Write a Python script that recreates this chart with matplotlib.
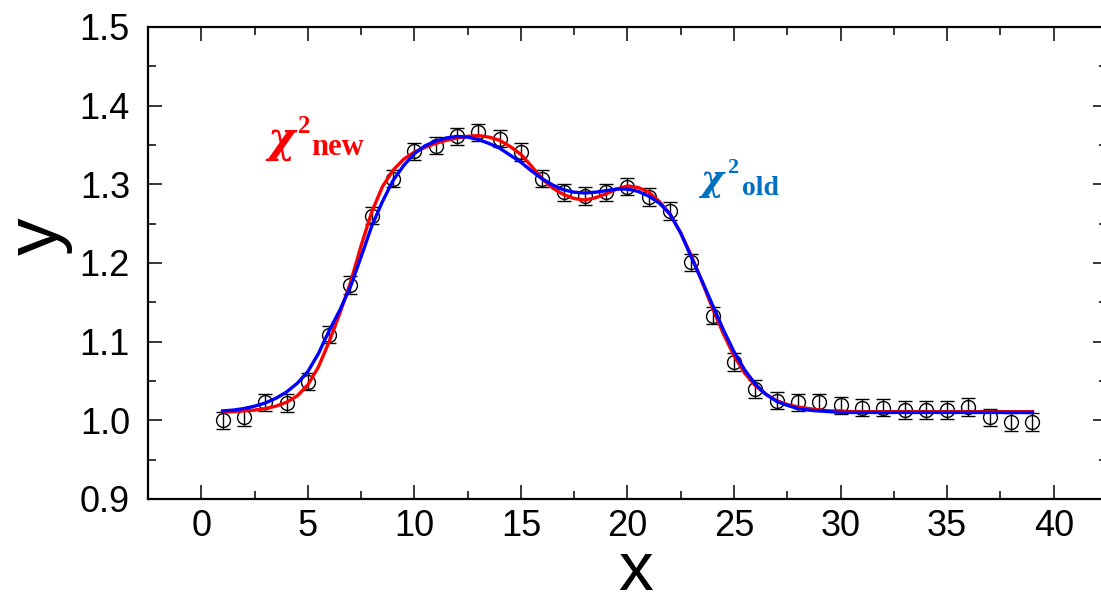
import numpy as np
import matplotlib
matplotlib.use("Agg")
import matplotlib.pyplot as plt
from matplotlib.ticker import MultipleLocator

# ---- data ----
x_pts = list(range(1, 40))
y_pts = [1.000, 1.004, 1.023, 1.022, 1.049, 1.109, 1.172, 1.260, 1.307, 1.342,
         1.349, 1.361, 1.366, 1.358, 1.341, 1.307, 1.290, 1.285, 1.290, 1.297,
         1.284, 1.266, 1.201, 1.133, 1.074, 1.040, 1.025, 1.023, 1.023, 1.019,
         1.016, 1.016, 1.013, 1.013, 1.013, 1.017, 1.004, 0.998, 0.998]
y_err = [0.011] * 39

# fitted curves, read every 0.5 in x from 1 to 39
x_curve = [1 + 0.5 * i for i in range(77)]
y_new = [1.011, 1.011, 1.012, 1.013, 1.015, 1.018, 1.023, 1.031, 1.045, 1.068,
         1.100, 1.136, 1.175, 1.222, 1.265, 1.297, 1.318, 1.332, 1.341, 1.347,
         1.352, 1.356, 1.359, 1.361, 1.362, 1.360, 1.356, 1.348, 1.338, 1.323,
         1.307, 1.295, 1.287, 1.282, 1.280, 1.283, 1.288, 1.294, 1.298, 1.296,
         1.290, 1.278, 1.262, 1.238, 1.209, 1.176, 1.142, 1.110, 1.082, 1.060,
         1.044, 1.033, 1.025, 1.020, 1.017, 1.015, 1.013, 1.012, 1.012, 1.011,
         1.011, 1.011, 1.011, 1.011, 1.011, 1.011, 1.011, 1.011, 1.011, 1.011,
         1.011, 1.011, 1.011, 1.011, 1.011, 1.011, 1.011]
y_old = [1.012, 1.013, 1.015, 1.018, 1.022, 1.028, 1.036, 1.047, 1.062, 1.085,
         1.114, 1.140, 1.170, 1.208, 1.247, 1.278, 1.305, 1.324, 1.339, 1.349,
         1.355, 1.359, 1.361, 1.360, 1.357, 1.352, 1.346, 1.337, 1.328, 1.317,
         1.307, 1.299, 1.293, 1.290, 1.289, 1.290, 1.292, 1.294, 1.294, 1.291,
         1.285, 1.276, 1.262, 1.238, 1.207, 1.177, 1.146, 1.115, 1.087, 1.064,
         1.046, 1.033, 1.024, 1.019, 1.015, 1.013, 1.012, 1.011, 1.010, 1.010,
         1.010, 1.010, 1.010, 1.010, 1.010, 1.010, 1.010, 1.010, 1.010, 1.010,
         1.010, 1.010, 1.010, 1.010, 1.010, 1.010, 1.010]

x_ticks = [0, 5, 10, 15, 20, 25, 30, 35, 40]
y_ticks = [0.9, 1.0, 1.1, 1.2, 1.3, 1.4, 1.5]

W, H = 1101, 592
plt.rcParams['font.family'] = ['Liberation Sans', 'DejaVu Sans']

fig = plt.figure(figsize=(W / 100, H / 100), dpi=100)
L, R, T, B = 148, 1107, 27, 499
ax = fig.add_axes([L / W, 1 - B / H, (R - L) / W, (B - T) / H])

ax.errorbar(x_pts, y_pts, yerr=y_err, fmt='o', mfc='none', mec='black',
            ms=10, mew=1.0, ecolor='black', elinewidth=1.0, capsize=5,
            capthick=1.0, zorder=2)
ax.plot(x_curve, y_new, color='#ff0000', lw=2.4, zorder=3)
ax.plot(x_curve, y_old, color='#0000ff', lw=2.4, zorder=4)

ax.set_xlim(-2.5, 42.5)
ax.set_ylim(0.9, 1.5)
ax.set_xticks(x_ticks)
ax.set_yticks(y_ticks)
ax.set_yticklabels([f"{v:.1f}" for v in y_ticks])
ax.xaxis.set_minor_locator(MultipleLocator(2.5))
ax.yaxis.set_minor_locator(MultipleLocator(0.05))
ax.tick_params(which='both', direction='in', top=True, right=True,
               width=1.1, labelsize=26)
ax.tick_params(which='major', length=10)
ax.tick_params(which='minor', length=6)
ax.tick_params(axis='y', pad=13)
ax.tick_params(axis='x', pad=7)
for s in ax.spines.values():
    s.set_linewidth(1.6)

def ftext(px, py, s, **kw):
    fig.text(px / W, 1 - py / H, s, **kw)

ftext(38, 236, 'y', rotation=90, ha='center', va='center', fontsize=54)
ftext(636, 590, 'x', ha='center', va='baseline', fontsize=50)

serif = ['Liberation Serif', 'DejaVu Serif']
chi_font = ['DejaVu Serif']
ftext(267, 152, 'χ', color='#ff0000', family=chi_font, weight='bold',
      style='italic', fontsize=30, ha='left', va='baseline')
ftext(298, 133, '2', color='#ff0000', family=serif, weight='bold',
      fontsize=18, ha='left', va='baseline')
ftext(311, 155, 'new', color='#ff0000', family=serif, weight='bold',
      fontsize=22, ha='left', va='baseline')

ftext(700, 191, 'χ', color='#0070c0', family=chi_font, weight='bold',
      style='italic', fontsize=25, ha='left', va='baseline')
ftext(727, 173, '2', color='#0070c0', family=serif, weight='bold',
      fontsize=16, ha='left', va='baseline')
ftext(742, 195, 'old', color='#0070c0', family=serif, weight='bold',
      fontsize=20, ha='left', va='baseline')

fig.savefig('out.png', dpi=100)
